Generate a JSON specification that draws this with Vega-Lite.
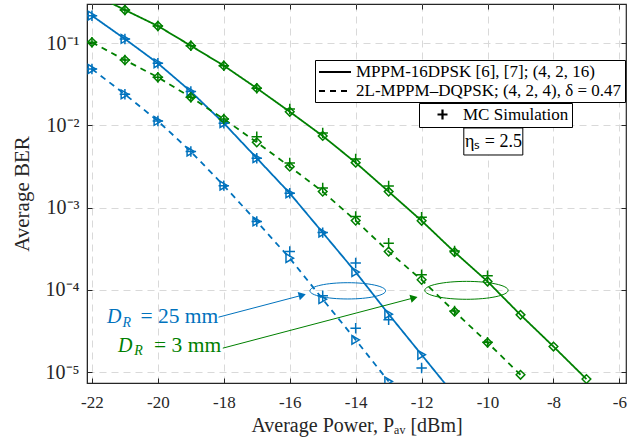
{
  "$schema": "https://vega.github.io/schema/vega-lite/v6.json",
  "width": 539,
  "height": 379,
  "autosize": {"type": "none"},
  "padding": {"left": 87, "top": 4, "right": 18, "bottom": 61},
  "background": "white",
  "config": {
    "font": "Liberation Serif",
    "view": {"stroke": "#262626", "strokeWidth": 1.2},
    "axis": {
      "gridColor": "#d9d9d9", "gridDash": [7, 5], "gridWidth": 1,
      "domainColor": "#262626", "tickColor": "#262626",
      "labelColor": "#262626", "titleColor": "#262626",
      "labelFont": "Liberation Serif", "titleFont": "Liberation Serif",
      "titleFontWeight": "normal", "labelFlush": false, "labelOverlap": false
    }
  },
  "datasets": {
    "curves": [
      {"dr": "25 mm", "scheme": "A", "x": -22, "ber": 0.215},
      {"dr": "25 mm", "scheme": "A", "x": -21, "ber": 0.112},
      {"dr": "25 mm", "scheme": "A", "x": -20, "ber": 0.0567},
      {"dr": "25 mm", "scheme": "A", "x": -19, "ber": 0.0257},
      {"dr": "25 mm", "scheme": "A", "x": -18, "ber": 0.0106},
      {"dr": "25 mm", "scheme": "A", "x": -17, "ber": 0.00398},
      {"dr": "25 mm", "scheme": "A", "x": -16, "ber": 0.00149},
      {"dr": "25 mm", "scheme": "A", "x": -15, "ber": 0.000495},
      {"dr": "25 mm", "scheme": "A", "x": -14, "ber": 0.000164},
      {"dr": "25 mm", "scheme": "A", "x": -13, "ber": 0.0000505},
      {"dr": "25 mm", "scheme": "A", "x": -12, "ber": 0.0000162},
      {"dr": "25 mm", "scheme": "A", "x": -11, "ber": 0.0000052},
      {"dr": "25 mm", "scheme": "B", "x": -22, "ber": 0.0483},
      {"dr": "25 mm", "scheme": "B", "x": -21, "ber": 0.0238},
      {"dr": "25 mm", "scheme": "B", "x": -20, "ber": 0.01127},
      {"dr": "25 mm", "scheme": "B", "x": -19, "ber": 0.00479},
      {"dr": "25 mm", "scheme": "B", "x": -18, "ber": 0.001845},
      {"dr": "25 mm", "scheme": "B", "x": -17, "ber": 0.000676},
      {"dr": "25 mm", "scheme": "B", "x": -16, "ber": 0.000242},
      {"dr": "25 mm", "scheme": "B", "x": -15, "ber": 0.0000767},
      {"dr": "25 mm", "scheme": "B", "x": -14, "ber": 0.0000246},
      {"dr": "25 mm", "scheme": "B", "x": -13, "ber": 0.00000767},
      {"dr": "3 mm", "scheme": "A", "x": -22, "ber": 0.40},
      {"dr": "3 mm", "scheme": "A", "x": -21, "ber": 0.252},
      {"dr": "3 mm", "scheme": "A", "x": -20, "ber": 0.161},
      {"dr": "3 mm", "scheme": "A", "x": -19, "ber": 0.0927},
      {"dr": "3 mm", "scheme": "A", "x": -18, "ber": 0.053},
      {"dr": "3 mm", "scheme": "A", "x": -17, "ber": 0.0282},
      {"dr": "3 mm", "scheme": "A", "x": -16, "ber": 0.0146},
      {"dr": "3 mm", "scheme": "A", "x": -15, "ber": 0.00741},
      {"dr": "3 mm", "scheme": "A", "x": -14, "ber": 0.00351},
      {"dr": "3 mm", "scheme": "A", "x": -13, "ber": 0.00156},
      {"dr": "3 mm", "scheme": "A", "x": -12, "ber": 0.00069},
      {"dr": "3 mm", "scheme": "A", "x": -11, "ber": 0.000287},
      {"dr": "3 mm", "scheme": "A", "x": -10, "ber": 0.000126},
      {"dr": "3 mm", "scheme": "A", "x": -9, "ber": 0.0000495},
      {"dr": "3 mm", "scheme": "A", "x": -8, "ber": 0.0000204},
      {"dr": "3 mm", "scheme": "A", "x": -7, "ber": 0.0000082},
      {"dr": "3 mm", "scheme": "B", "x": -22, "ber": 0.102},
      {"dr": "3 mm", "scheme": "B", "x": -21, "ber": 0.062},
      {"dr": "3 mm", "scheme": "B", "x": -20, "ber": 0.0383},
      {"dr": "3 mm", "scheme": "B", "x": -19, "ber": 0.0219},
      {"dr": "3 mm", "scheme": "B", "x": -18, "ber": 0.0119},
      {"dr": "3 mm", "scheme": "B", "x": -17, "ber": 0.0062},
      {"dr": "3 mm", "scheme": "B", "x": -16, "ber": 0.00314},
      {"dr": "3 mm", "scheme": "B", "x": -15, "ber": 0.00156},
      {"dr": "3 mm", "scheme": "B", "x": -14, "ber": 0.000693},
      {"dr": "3 mm", "scheme": "B", "x": -13, "ber": 0.000291},
      {"dr": "3 mm", "scheme": "B", "x": -12, "ber": 0.000132},
      {"dr": "3 mm", "scheme": "B", "x": -11, "ber": 0.0000543},
      {"dr": "3 mm", "scheme": "B", "x": -10, "ber": 0.0000228},
      {"dr": "3 mm", "scheme": "B", "x": -9, "ber": 0.00000925}
    ],
    "mc": [
      {"dr": "25 mm", "kind": "MC Simulation", "x": -22, "ber": 0.215},
      {"dr": "25 mm", "kind": "MC Simulation", "x": -21, "ber": 0.112},
      {"dr": "25 mm", "kind": "MC Simulation", "x": -20, "ber": 0.0567},
      {"dr": "25 mm", "kind": "MC Simulation", "x": -19, "ber": 0.0257},
      {"dr": "25 mm", "kind": "MC Simulation", "x": -18, "ber": 0.0106},
      {"dr": "25 mm", "kind": "MC Simulation", "x": -17, "ber": 0.00398},
      {"dr": "25 mm", "kind": "MC Simulation", "x": -16, "ber": 0.00149},
      {"dr": "25 mm", "kind": "MC Simulation", "x": -15, "ber": 0.000495},
      {"dr": "25 mm", "kind": "MC Simulation", "x": -14, "ber": 0.000212},
      {"dr": "25 mm", "kind": "MC Simulation", "x": -13, "ber": 0.0000431},
      {"dr": "25 mm", "kind": "MC Simulation", "x": -12, "ber": 0.0000112},
      {"dr": "25 mm", "kind": "MC Simulation", "x": -22, "ber": 0.0483},
      {"dr": "25 mm", "kind": "MC Simulation", "x": -21, "ber": 0.0238},
      {"dr": "25 mm", "kind": "MC Simulation", "x": -20, "ber": 0.01127},
      {"dr": "25 mm", "kind": "MC Simulation", "x": -19, "ber": 0.00479},
      {"dr": "25 mm", "kind": "MC Simulation", "x": -18, "ber": 0.001845},
      {"dr": "25 mm", "kind": "MC Simulation", "x": -17, "ber": 0.000676},
      {"dr": "25 mm", "kind": "MC Simulation", "x": -16, "ber": 0.000291},
      {"dr": "25 mm", "kind": "MC Simulation", "x": -15, "ber": 0.0000843},
      {"dr": "25 mm", "kind": "MC Simulation", "x": -14, "ber": 0.0000341},
      {"dr": "3 mm", "kind": "MC Simulation", "x": -21, "ber": 0.252},
      {"dr": "3 mm", "kind": "MC Simulation", "x": -20, "ber": 0.161},
      {"dr": "3 mm", "kind": "MC Simulation", "x": -19, "ber": 0.0927},
      {"dr": "3 mm", "kind": "MC Simulation", "x": -18, "ber": 0.053},
      {"dr": "3 mm", "kind": "MC Simulation", "x": -17, "ber": 0.0282},
      {"dr": "3 mm", "kind": "MC Simulation", "x": -16, "ber": 0.0158},
      {"dr": "3 mm", "kind": "MC Simulation", "x": -15, "ber": 0.00805},
      {"dr": "3 mm", "kind": "MC Simulation", "x": -14, "ber": 0.00389},
      {"dr": "3 mm", "kind": "MC Simulation", "x": -13, "ber": 0.00183},
      {"dr": "3 mm", "kind": "MC Simulation", "x": -12, "ber": 0.000762},
      {"dr": "3 mm", "kind": "MC Simulation", "x": -11, "ber": 0.000295},
      {"dr": "3 mm", "kind": "MC Simulation", "x": -10, "ber": 0.000148},
      {"dr": "3 mm", "kind": "MC Simulation", "x": -22, "ber": 0.102},
      {"dr": "3 mm", "kind": "MC Simulation", "x": -21, "ber": 0.062},
      {"dr": "3 mm", "kind": "MC Simulation", "x": -20, "ber": 0.0383},
      {"dr": "3 mm", "kind": "MC Simulation", "x": -19, "ber": 0.0219},
      {"dr": "3 mm", "kind": "MC Simulation", "x": -18, "ber": 0.0119},
      {"dr": "3 mm", "kind": "MC Simulation", "x": -17, "ber": 0.00726},
      {"dr": "3 mm", "kind": "MC Simulation", "x": -16, "ber": 0.00348},
      {"dr": "3 mm", "kind": "MC Simulation", "x": -15, "ber": 0.00173},
      {"dr": "3 mm", "kind": "MC Simulation", "x": -14, "ber": 0.000776},
      {"dr": "3 mm", "kind": "MC Simulation", "x": -13, "ber": 0.000368},
      {"dr": "3 mm", "kind": "MC Simulation", "x": -12, "ber": 0.000152},
      {"dr": "3 mm", "kind": "MC Simulation", "x": -11, "ber": 0.000055},
      {"dr": "3 mm", "kind": "MC Simulation", "x": -10, "ber": 0.000023}
    ],
    "ellipses": [
      {"dr": "25 mm", "x": -14.24, "ber": 0.000097},
      {"dr": "3 mm", "x": -10.64, "ber": 0.0000984}
    ],
    "arrows": [
      {"dr": "25 mm", "x": -18.16, "ber": 0.0000464, "end": false},
      {"dr": "25 mm", "x": -15.62, "ber": 0.0000859, "end": true},
      {"dr": "3 mm", "x": -18.03, "ber": 0.0000195, "end": false},
      {"dr": "3 mm", "x": -12.23, "ber": 0.0000798, "end": true}
    ],
    "labels": [
      {"dr": "25 mm", "part": "D", "text": "D", "x": -21.544, "ber": 0.0000393},
      {"dr": "25 mm", "part": "R", "text": "R", "x": -21.07, "ber": 0.0000354},
      {"dr": "25 mm", "part": "rest", "text": "= 25 mm", "x": -18.17, "ber": 0.0000393},
      {"dr": "3 mm", "part": "D", "text": "D", "x": -21.21, "ber": 0.0000177},
      {"dr": "3 mm", "part": "R", "text": "R", "x": -20.72, "ber": 0.0000162},
      {"dr": "3 mm", "part": "rest", "text": "= 3 mm", "x": -18.08, "ber": 0.0000177}
    ],
    "notes": [
      {"text": "ηₛ = 2.5", "x": -10.72, "x2": -8.93, "ber": 0.00927, "ber2": 0.00435, "xc": -9.82, "yc": 0.0063}
    ]
  },
  "resolve": {
    "scale": {"shape": "independent"},
    "legend": {"shape": "independent"},
    "axis": {"x": "independent", "y": "independent"}
  },
  "layer": [
    {
      "data": {"name": "curves"},
      "mark": {"type": "line", "strokeWidth": 1.8, "clip": true},
      "encoding": {
        "x": {"field": "x", "type": "quantitative",
          "scale": {"domain": [-22.15, -5.8], "nice": false, "zero": false},
          "axis": {"values": [-22, -20, -18, -16, -14, -12, -10, -8, -6],
            "labelExpr": "'' + datum.value", "labelFontSize": 17,
            "tickSize": -5, "labelPadding": 16,
            "title": "Average Power, Pₐᵥ [dBm]", "titleFontSize": 20, "titlePadding": 5}},
        "y": {"field": "ber", "type": "quantitative",
          "scale": {"type": "log", "domain": [0.00000735, 0.298], "nice": false},
          "axis": {"values": [0.00001, 0.0001, 0.001, 0.01, 0.1],
            "labelExpr": "datum.value < 2e-5 ? '10⁻⁵' : datum.value < 2e-4 ? '10⁻⁴' : datum.value < 2e-3 ? '10⁻³' : datum.value < 2e-2 ? '10⁻²' : '10⁻¹'",
            "labelFontSize": 20, "tickSize": -5, "labelPadding": 13,
            "title": "Average BER", "titleFontSize": 21, "titlePadding": 13}},
        "color": {"field": "dr", "type": "nominal",
          "scale": {"domain": ["25 mm", "3 mm"], "range": ["#0072BD", "#008000"]}, "legend": null},
        "strokeDash": {"field": "scheme", "type": "nominal",
          "scale": {"domain": ["A", "B"], "range": [[1, 0], [6, 5]]},
          "legend": {"orient": "none", "legendX": 228, "legendY": 56, "title": null,
            "labelExpr": "datum.label == 'A' ? 'MPPM-16DPSK [6], [7]; (4, 2, 16)' : '2L-MPPM–DQPSK; (4, 2, 4), δ = 0.47'",
            "symbolType": "M-2,0L2,0", "symbolStrokeColor": "black", "symbolStrokeWidth": 2,
            "symbolSize": 256, "symbolOffset": 8, "labelFont": "Liberation Serif", "labelFontSize": 17, "labelLimit": 400,
            "labelColor": "black", "strokeColor": "black", "fillColor": "white",
            "padding": 3, "rowPadding": 2, "labelOffset": 12, "cornerRadius": 0}}
      }
    },
    {
      "data": {"name": "curves"},
      "mark": {"type": "point", "filled": false, "strokeWidth": 1.5, "size": 75, "clip": true, "opacity": 1},
      "encoding": {
        "x": {"field": "x", "type": "quantitative",
          "axis": {"orient": "top", "values": [-22, -20, -18, -16, -14, -12, -10, -8, -6],
            "labels": false, "grid": false, "domain": false, "tickSize": -5, "title": null}},
        "y": {"field": "ber", "type": "quantitative",
          "axis": {"orient": "right", "values": [0.00001, 0.0001, 0.001, 0.01, 0.1],
            "labels": false, "grid": false, "domain": false, "tickSize": -5, "title": null}},
        "color": {"field": "dr", "type": "nominal", "legend": null},
        "shape": {"field": "dr", "type": "nominal",
          "scale": {"domain": ["25 mm", "3 mm"], "range": ["triangle-right", "diamond"]}, "legend": null}
      }
    },
    {
      "data": {"name": "mc"},
      "mark": {"type": "point", "filled": false, "strokeWidth": 1.5, "size": 110, "clip": true, "opacity": 1},
      "encoding": {
        "x": {"field": "x", "type": "quantitative", "axis": null},
        "y": {"field": "ber", "type": "quantitative", "axis": null},
        "color": {"field": "dr", "type": "nominal", "legend": null},
        "shape": {"field": "kind", "type": "nominal",
          "scale": {"domain": ["MC Simulation"], "range": ["M-1,0L1,0M0,-1L0,1"]},
          "legend": {"orient": "none", "legendX": 332, "legendY": 99, "title": null,
            "symbolStrokeColor": "black", "symbolFillColor": "transparent", "symbolStrokeWidth": 2.2,
            "symbolSize": 100, "symbolOffset": 12, "labelFont": "Liberation Serif", "labelFontSize": 17,
            "labelColor": "black", "strokeColor": "black", "fillColor": "white",
            "padding": 3, "labelOffset": 12, "cornerRadius": 0}}
      }
    },
    {
      "data": {"name": "ellipses"},
      "mark": {"type": "point", "filled": false, "strokeWidth": 1, "shape": "M-1,0A1,0.215 0 1,1 1,0A1,0.215 0 1,1 -1,0Z", "opacity": 1},
      "encoding": {
        "x": {"field": "x", "type": "quantitative", "axis": null},
        "y": {"field": "ber", "type": "quantitative", "axis": null},
        "color": {"field": "dr", "type": "nominal", "legend": null},
        "size": {"field": "dr", "type": "nominal", "scale": {"domain": ["25 mm", "3 mm"], "range": [5730, 6944]}, "legend": null}
      }
    },
    {
      "data": {"name": "arrows"},
      "mark": {"type": "line", "strokeWidth": 1},
      "encoding": {
        "x": {"field": "x", "type": "quantitative", "axis": null},
        "y": {"field": "ber", "type": "quantitative", "axis": null},
        "color": {"field": "dr", "type": "nominal", "legend": null}
      }
    },
    {
      "data": {"name": "arrows"},
      "transform": [{"filter": "datum.end"}],
      "mark": {"type": "point", "filled": true, "shape": "triangle-right", "angle": -14.8, "size": 70, "opacity": 1},
      "encoding": {
        "x": {"field": "x", "type": "quantitative", "axis": null},
        "y": {"field": "ber", "type": "quantitative", "axis": null},
        "color": {"field": "dr", "type": "nominal", "legend": null}
      }
    },
    {
      "data": {"name": "labels"},
      "transform": [{"filter": "datum.part == 'D'"}],
      "mark": {"type": "text", "align": "left", "baseline": "alphabetic", "fontSize": 20, "fontStyle": "italic", "font": "Liberation Serif"},
      "encoding": {
        "x": {"field": "x", "type": "quantitative", "axis": null},
        "y": {"field": "ber", "type": "quantitative", "axis": null},
        "text": {"field": "text"},
        "color": {"field": "dr", "type": "nominal", "legend": null}
      }
    },
    {
      "data": {"name": "labels"},
      "transform": [{"filter": "datum.part == 'R'"}],
      "mark": {"type": "text", "align": "left", "baseline": "alphabetic", "fontSize": 14, "fontStyle": "italic", "font": "Liberation Serif"},
      "encoding": {
        "x": {"field": "x", "type": "quantitative", "axis": null},
        "y": {"field": "ber", "type": "quantitative", "axis": null},
        "text": {"field": "text"},
        "color": {"field": "dr", "type": "nominal", "legend": null}
      }
    },
    {
      "data": {"name": "labels"},
      "transform": [{"filter": "datum.part == 'rest'"}],
      "mark": {"type": "text", "align": "right", "baseline": "alphabetic", "fontSize": 21.5, "font": "Liberation Serif"},
      "encoding": {
        "x": {"field": "x", "type": "quantitative", "axis": null},
        "y": {"field": "ber", "type": "quantitative", "axis": null},
        "text": {"field": "text"},
        "color": {"field": "dr", "type": "nominal", "legend": null}
      }
    },
    {
      "data": {"name": "notes"},
      "mark": {"type": "rect", "fill": "white", "stroke": "black", "strokeWidth": 1},
      "encoding": {
        "x": {"field": "x", "type": "quantitative", "axis": null},
        "x2": {"field": "x2"},
        "y": {"field": "ber", "type": "quantitative", "axis": null},
        "y2": {"field": "ber2"}
      }
    },
    {
      "data": {"name": "notes"},
      "mark": {"type": "text", "align": "center", "baseline": "middle", "fontSize": 18, "font": "Liberation Serif", "color": "black"},
      "encoding": {
        "x": {"field": "xc", "type": "quantitative", "axis": null},
        "y": {"field": "yc", "type": "quantitative", "axis": null},
        "text": {"field": "text"}
      }
    }
  ]
}
